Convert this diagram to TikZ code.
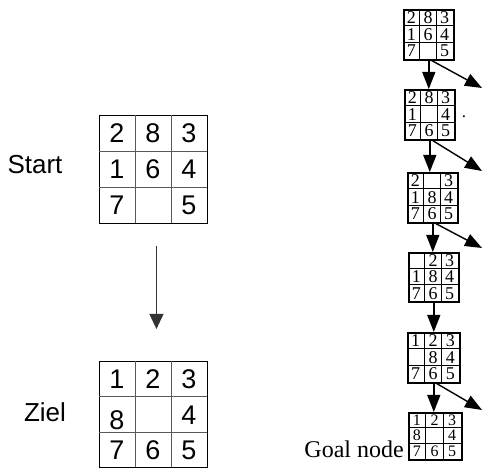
\documentclass[tikz,border=0pt]{standalone}
\usepackage{fontspec}
\setmainfont{Liberation Serif}
\setsansfont{Liberation Sans}
\usetikzlibrary{arrows.meta}

% 3x3 sliding puzzle: name, left, top, width, height, frame style, digit style, nine entries
\newcommand\pzgrid[8]{%
  \node[#6, minimum width=#4pt, minimum height=#5pt, anchor=north west, inner sep=0pt] (#1) at (#2,#3) {};
  \draw[#6 inner] (#2+#4/3,#3) -- (#2+#4/3,#3+#5);
  \draw[#6 inner] (#2+2*#4/3,#3) -- (#2+2*#4/3,#3+#5);
  \draw[#6 inner] (#2,#3+#5/3) -- (#2+#4,#3+#5/3);
  \draw[#6 inner] (#2,#3+2*#5/3) -- (#2+#4,#3+2*#5/3);
  \foreach \d [count=\i from 0] in {#8} {
    \pgfmathsetmacro\cx{#2+(mod(\i,3)+0.5)*#4/3}
    \pgfmathsetmacro\cy{#3+(floor(\i/3)+0.5)*#5/3}
    \node[#7] (#1-\i) at (\cx,\cy) {\d};
  }%
}

\begin{document}
\begin{tikzpicture}[x=1pt,y=-1pt,
  big/.style={draw=black, line width=0.9pt},
  big inner/.style={draw=black!65, line width=0.8pt},
  small/.style={draw=black, line width=1.6pt},
  small inner/.style={draw=black, line width=1.2pt},
  bigdigit/.style={inner sep=0pt, text height=19.6pt, text depth=0pt, font=\sffamily\fontsize{27}{30}\selectfont},
  smalldigit/.style={inner sep=0pt, text height=12.4pt, text depth=0pt, font=\fontsize{18}{20}\selectfont},
  tightdigit/.style={inner sep=0pt, text height=10.8pt, text depth=0pt, font=\fontsize{16}{17}\selectfont},
  label/.style={font=\sffamily\fontsize{26}{30}\selectfont, inner sep=0pt},
  bigarrow/.style={draw=black!80, line width=0.9pt, -{Triangle[length=15pt,width=14pt]}},
  move/.style={draw=black, line width=1.4pt, -{Triangle[length=17pt,width=13pt]}}]
\useasboundingbox (0,0) rectangle (483,468);

% start and goal states
\pzgrid{start}{99}{115}{108}{108}{big}{bigdigit}{2,8,3,1,6,4,7,{},5}
\pzgrid{ziel}{99}{361}{108}{106.5}{big}{bigdigit}{1,2,3,{\raisebox{-5pt}{8}},{},4,7,6,5}
\node[label] (startlabel) at (35,165) {Start};
\node[label] (ziellabel) at (45,412) {Ziel};
\draw[bigarrow, shorten <=22pt, shorten >=32pt] ([xshift=3pt]start.south) -- ([xshift=3pt]ziel.north);

% search path
\pzgrid{g1}{403}{9}{50}{50}{small}{smalldigit}{2,8,3,1,6,4,7,{},5}
\pzgrid{g2}{404}{89}{50}{50}{small}{smalldigit}{2,8,3,1,{},4,7,6,5}
\pzgrid{g3}{407}{172}{50}{50}{small}{smalldigit}{2,{},3,1,8,4,7,6,5}
\pzgrid{g4}{408}{252}{50}{49}{small}{smalldigit}{{},2,3,1,8,4,7,6,5}
\pzgrid{g5}{407}{332}{52}{50}{small}{smalldigit}{1,2,3,{},8,4,7,6,5}
\pzgrid{g6}{408}{412}{53}{47}{small}{tightdigit}{1,2,3,8,{},4,7,6,5}
\node[font=\fontsize{24}{28}\selectfont, inner sep=0pt, anchor=base east] (goallabel) at (404,458) {Goal node};
\node[font=\fontsize{17}{20}\selectfont, inner sep=0pt] (dot) at (464,117) {.};

\coordinate (d1) at (482,88);
\coordinate (d2) at (482,171);
\coordinate (d3) at (482,248);
\coordinate (d5) at (482,410);

\draw[move] (g1.south) -- (g1.south |- g2.north);
\draw[move] (g2.south) -- (g2.south |- g3.north);
\draw[move] (g3.south) -- (g3.south |- g4.north);
\draw[move] (g4.south) -- (g4.south |- g5.north);
\draw[move] (g5.south) -- (g5.south |- g6.north);
\draw[move] ([xshift=3pt]g1.south) -- (d1);
\draw[move] ([xshift=3pt]g2.south) -- (d2);
\draw[move] ([xshift=3pt]g3.south) -- (d3);
\draw[move] ([xshift=3pt]g5.south) -- (d5);
\end{tikzpicture}
\end{document}
